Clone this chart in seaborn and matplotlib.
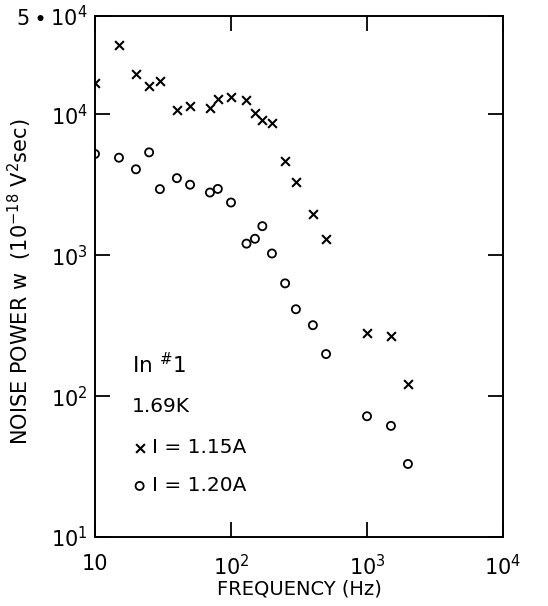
import matplotlib
matplotlib.use("Agg")
import matplotlib.pyplot as plt
import seaborn as sns
import pandas as pd

# ---- data ----
freq_a = [10, 15, 20, 25, 30, 40, 50, 70, 80, 100, 130, 150, 170, 200, 250, 300, 400, 500, 1000, 1500, 2000]
w_a = [16700, 31000, 19300, 15900, 17300, 10800, 11500, 11200, 12800, 13200, 12600, 10200, 9200, 8700,
       4700, 3340, 1970, 1310, 279, 266, 122]
label_a = "I = 1.15A"

freq_b = [10, 15, 20, 25, 30, 40, 50, 70, 80, 100, 130, 150, 170, 200, 250, 300, 400, 500, 1000, 1500, 2000]
w_b = [5240, 4930, 4080, 5380, 2950, 3530, 3170, 2790, 2960, 2370, 1210, 1310, 1610, 1030,
       632, 414, 319, 199, 72, 61.5, 33]
label_b = "I = 1.20A"

xticks = [10, 100, 1000, 10000]
xticklabels = ["10", r"$10^2$", r"$10^3$", r"$10^4$"]
yticks = [10, 100, 1000, 10000, 50000]
yticklabels = [r"$10^1$", r"$10^2$", r"$10^3$", r"$10^4$", r"$5\bullet10^4$"]

sns.set_theme(style="ticks")
plt.rcParams['font.family'] = ['DejaVu Sans']
plt.rcParams['mathtext.fontset'] = 'dejavusans'
for k in ["text.color", "axes.labelcolor", "xtick.color", "ytick.color", "axes.edgecolor"]:
    plt.rcParams[k] = "black"

df_a = pd.DataFrame({"freq": freq_a, "w": w_a, "series": label_a})
df_b = pd.DataFrame({"freq": freq_b, "w": w_b, "series": label_b})

fig = plt.figure(figsize=(5.48, 6.06), dpi=100)
ax = fig.add_axes([95/548, 1-537/606, 408/548, 521/606])

sns.scatterplot(data=df_a, x="freq", y="w", marker="x", color="black", s=40,
                linewidth=1.5, ax=ax, label=label_a)
sns.scatterplot(data=df_b, x="freq", y="w", marker="o", facecolors="none", edgecolor="black",
                s=34, linewidth=1.3, ax=ax, label=label_b)

ax.set_xscale("log")
ax.set_yscale("log")
ax.set_xlim(10, 10000)
ax.set_ylim(10, 50000)
ax.minorticks_off()
ax.set_xticks(xticks)
ax.set_xticklabels(xticklabels, fontsize=15)
ax.set_yticks(yticks)
ax.set_yticklabels(yticklabels, fontsize=15)
ax.tick_params(which="major", direction="in", length=11, width=1.3, top=True, right=True, pad=5)
ax.tick_params(axis="x", pad=12)
for sp in ax.spines.values():
    sp.set_linewidth(1.4)

ax.set_xlabel("FREQUENCY (Hz)", fontsize=14)
ax.xaxis.set_label_coords(0.5, -0.082)
ax.set_ylabel(r"NOISE POWER w  (10$^{-18}$ V$^2$sec)", fontsize=15)
ax.yaxis.set_label_coords(-0.15, 0.49)

ax.text(0.09, 0.33, r"In $^{\#}$1", transform=ax.transAxes, fontsize=15.5, va="center")
ax.text(0.09, 0.25, "1.69K", transform=ax.transAxes, fontsize=14.5, va="center")

leg = ax.legend(loc="center left", bbox_to_anchor=(0.06, 0.135), frameon=False, fontsize=14.5,
                handletextpad=0.0, labelspacing=0.95, handlelength=1.2, borderaxespad=0)

fig.savefig("out.png", dpi=100, facecolor="white")
